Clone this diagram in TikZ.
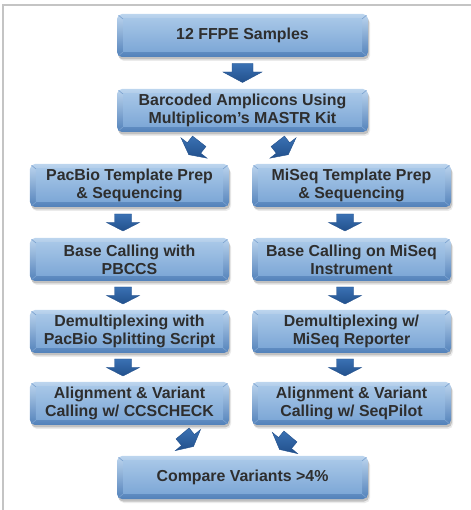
\documentclass[tikz,border=0pt]{standalone}
\usepackage{fontspec}
\setmainfont{Liberation Sans}
\usetikzlibrary{calc,shadows}
\definecolor{txtc}{HTML}{2E2E2E}
\definecolor{framec}{HTML}{C4C4C4}
\definecolor{edgetop}{HTML}{BCD5EE}
\definecolor{edgebot}{HTML}{5281BA}
\definecolor{facetop}{HTML}{A6C6E7}
\definecolor{facebot}{HTML}{7DA7D6}
\definecolor{cornerc}{HTML}{7AA1CF}
\definecolor{arrtop}{HTML}{3A71B3}
\definecolor{arrbot}{HTML}{22508C}
\newcommand{\boxfont}{\fontsize{15.9bp}{18bp}\selectfont\bfseries}
\tikzset{
  box/.style={rounded corners=5bp, minimum height=43bp, inner sep=0pt, align=center,
    font=\boxfont, text=txtc, top color=edgetop, bottom color=edgebot,
    drop shadow={shadow xshift=1bp, shadow yshift=-2.5bp, opacity=.18, fill=black},
    drop shadow={shadow xshift=2bp, shadow yshift=-4bp, opacity=.08, fill=black},
    path picture={
      \coordinate (sw) at (path picture bounding box.south west);
      \coordinate (ne) at (path picture bounding box.north east);
      \coordinate (se) at (path picture bounding box.south east);
      \coordinate (nw) at (path picture bounding box.north west);
      \shade[sharp corners, top color=facetop, bottom color=facebot]
        ($(sw)+(6,5)$) rectangle ($(ne)+(-6,-5)$);
      \draw[sharp corners, cornerc, line width=.6bp] (sw) -- ($(sw)+(6,5)$)
        (se) -- ($(se)+(-6,5)$) (ne) -- ($(ne)+(-6,-5)$) (nw) -- ($(nw)+(6,-5)$);
    }},
  wbox/.style={box, minimum width=251bp},
  cbox/.style={box, minimum width=199bp},
  arrfill/.style={top color=arrtop, bottom color=arrbot, draw=arrbot, line width=.4bp},
  bigarrow/.pic={\path[arrfill] (-10.5,9.5) -- (10.5,9.5) -- (10.5,1) -- (19.5,1)
      -- (0,-9.5) -- (-19.5,1) -- (-10.5,1) -- cycle;},
  smallarrow/.pic={\path[arrfill] (-8.5,8.5) -- (8.5,8.5) -- (8.5,0) -- (16.5,0)
      -- (0,-8.5) -- (-16.5,0) -- (-8.5,0) -- cycle;}
}
\begin{document}
\begin{tikzpicture}[x=1bp,y=1bp]
\useasboundingbox (0,0) rectangle (471,510);
\draw[framec, line width=1.2bp] (3,0) -- (3,505) -- (471,505);

\node[wbox] (b1) at (242.5,474.5) {12 FFPE Samples};
\node[wbox] (b2) at (242.5,399.5) {Barcoded Amplicons Using\\Multiplicom’s MASTR Kit};

\node[cbox] (p3) at (129.5,324.5) {PacBio Template Prep\\\& Sequencing};
\node[cbox] (m3) at (351.5,324.5) {MiSeq Template Prep\\\& Sequencing};
\node[cbox] (p4) at (129.5,250.5) {Base Calling with\\PBCCS};
\node[cbox] (m4) at (351.5,250.5) {Base Calling on MiSeq\\Instrument};
\node[cbox] (p5) at (129.5,178.5) {Demultiplexing with\\PacBio Splitting Script};
\node[cbox] (m5) at (351.5,178.5) {Demultiplexing w/\\MiSeq Reporter};
\node[cbox] (p6) at (129.5,106.5) {Alignment \& Variant\\Calling w/ CCSCHECK};
\node[cbox] (m6) at (351.5,106.5) {Alignment \& Variant\\Calling w/ SeqPilot};

\node[wbox] (b7) at (242.5,32.5) {Compare Variants >4\%};

\pic at ($(b1.south)!0.5!(b2.north)$) {bigarrow};
\pic at ($(p3.south)!0.5!(p4.north)+(-6.5,0)$) {smallarrow};
\pic at ($(m3.south)!0.5!(m4.north)+(-6.5,0)$) {smallarrow};
\pic at ($(p4.south)!0.5!(p5.north)+(-6.5,0)$) {smallarrow};
\pic at ($(m4.south)!0.5!(m5.north)+(-6.5,0)$) {smallarrow};
\pic at ($(p5.south)!0.5!(p6.north)+(-6.5,0)$) {smallarrow};
\pic at ($(m5.south)!0.5!(m6.north)+(-6.5,0)$) {smallarrow};

\pic[rotate=-38] at (194,362) {smallarrow};
\pic[rotate=38] at (283,362) {smallarrow};
\pic[rotate=40] at (188,70) {smallarrow};
\pic[rotate=-40] at (285,67) {smallarrow};
\end{tikzpicture}
\end{document}
